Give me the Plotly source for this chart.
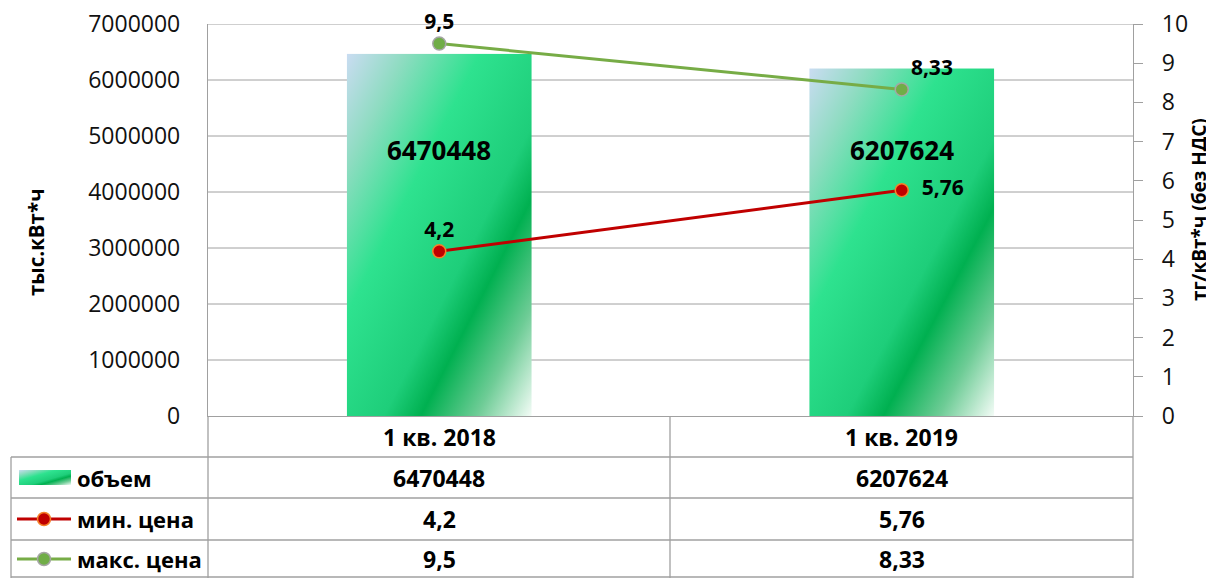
import base64
import plotly.graph_objects as go

# ---- data ----
categories = ["1 кв. 2018", "1 кв. 2019"]
volume = [6470448, 6207624]
min_price = [4.2, 5.76]
max_price = [9.5, 8.33]
series_names = ["объем", "мин. цена", "макс. цена"]
left_title = "тыс.кВт*ч"
right_title = "тг/кВт*ч (без НДС)"
left_ticks = [0, 1000000, 2000000, 3000000, 4000000, 5000000, 6000000, 7000000]
right_ticks = list(range(0, 11))

# ---- geometry (page pixels; the page body adds an 8px offset) ----
OFF = 8
W, H = 1214 - OFF, 578 - OFF
L, R, T, B = 208, 1133, 24, 416          # page coords of plot area
PW, PH = R - L, B - T
FONT = "Open Sans"
GRID = "#A0A0A0"
RED = "#C00000"
GREEN = "#77AC46"


def px(X):
    return (X - L) / PW


def py(Y):
    return (B - Y) / PH


def fmt(v):
    return str(v).replace(".", ",")


svg = (
    "<svg xmlns='http://www.w3.org/2000/svg' width='100' height='100' viewBox='0 0 100 100' "
    "preserveAspectRatio='none'><defs><linearGradient id='g' x1='0' y1='0' x2='1' y2='1'>"
    "<stop offset='0' stop-color='#CADCF2'/>"
    "<stop offset='0.16' stop-color='#8EDCC1'/>"
    "<stop offset='0.36' stop-color='#2EE28F'/>"
    "<stop offset='0.60' stop-color='#1ECE7A'/>"
    "<stop offset='0.70' stop-color='#00B050'/>"
    "<stop offset='0.85' stop-color='#6ECC96'/>"
    "<stop offset='1' stop-color='#F4FCF7'/>"
    "</linearGradient></defs><rect width='100' height='100' fill='url(#g)'/></svg>"
)
grad_src = "data:image/svg+xml;base64," + base64.b64encode(svg.encode()).decode()

xs = list(range(len(categories)))
BAR_W = 0.4

fig = go.Figure()

fig.add_trace(go.Bar(
    x=xs, y=volume, width=BAR_W, name=series_names[0],
    marker=dict(color="rgba(0,0,0,0)", line=dict(width=0)),
    showlegend=False, hoverinfo="y",
))

fig.add_trace(go.Scatter(
    x=xs, y=min_price, yaxis="y2", name=series_names[1],
    mode="lines+markers+text",
    line=dict(color=RED, width=3),
    marker=dict(size=13, color=RED, line=dict(color="#F5822A", width=1.5)),
    text=[fmt(v) for v in min_price],
    textposition=["top center", "middle right"],
    textfont=dict(family=FONT, size=21, color="#000"),
    texttemplate=["<b>%{text}</b>", "&nbsp;&nbsp;<b>%{text}</b>"],
    cliponaxis=False, showlegend=False,
))

fig.add_trace(go.Scatter(
    x=xs, y=max_price, yaxis="y2", name=series_names[2],
    mode="lines+markers+text",
    line=dict(color=GREEN, width=3),
    marker=dict(size=13, color="#70AD47", line=dict(color="#A5A5A5", width=1.5)),
    text=[fmt(v) for v in max_price],
    textposition=["top center", "top right"],
    textfont=dict(family=FONT, size=21, color="#000"),
    texttemplate="<b>%{text}</b>",
    cliponaxis=False, showlegend=False,
))

images = []
for x, v in zip(xs, volume):
    images.append(dict(
        source=grad_src, xref="x", yref="y", x=x - BAR_W / 2, y=v,
        sizex=BAR_W, sizey=v, xanchor="left", yanchor="top",
        sizing="stretch", layer="below",
    ))
images.append(dict(
    source=grad_src, xref="paper", yref="paper", x=px(19), y=py(470),
    sizex=px(71) - px(19), sizey=py(470) - py(485), xanchor="left", yanchor="top",
    sizing="stretch", layer="above",
))

shapes = []
for t in left_ticks[1:]:
    shapes.append(dict(type="line", xref="x", yref="y", x0=-0.5, x1=1.5, y0=t, y1=t,
                       line=dict(color=GRID, width=1), layer="below"))

tl = dict(color=GRID, width=1.3)
for Y in [457, 498, 540, 577]:
    shapes.append(dict(type="line", xref="paper", yref="paper", x0=px(11), x1=px(R),
                       y0=py(Y), y1=py(Y), line=tl))
shapes.append(dict(type="line", xref="paper", yref="paper", x0=px(11), x1=px(11),
                   y0=py(457), y1=py(578), line=tl))
for X in [L, 670, R]:
    shapes.append(dict(type="line", xref="paper", yref="paper", x0=px(X), x1=px(X),
                       y0=py(B), y1=py(578), line=tl))

for Y, lc, fc, oc in [(519, RED, RED, "#F5822A"), (559, GREEN, "#70AD47", "#A5A5A5")]:
    shapes.append(dict(type="line", xref="paper", yref="paper", x0=px(17), x1=px(71),
                       y0=py(Y), y1=py(Y), line=dict(color=lc, width=3)))
    shapes.append(dict(type="circle", xref="paper", yref="paper",
                       x0=px(44 - 6.5), x1=px(44 + 6.5), y0=py(Y + 6.5), y1=py(Y - 6.5),
                       fillcolor=fc, line=dict(color=oc, width=1.5)))

annotations = []
tf = dict(family=FONT, size=23, color="#000")
for x, v in zip(xs, volume):
    annotations.append(dict(x=x, y=4750000, xref="x", yref="y", text=f"<b>{v}</b>",
                            showarrow=False, xanchor="center", yanchor="middle",
                            font=dict(family=FONT, size=26, color="#000")))

col_centers = [(L + 670) / 2, (670 + R) / 2]
row_y = [436.5, 477.5, 519, 559]
rows = [categories, [str(v) for v in volume], [fmt(v) for v in min_price],
        [fmt(v) for v in max_price]]
for ry, vals in zip(row_y, rows):
    for cx, s in zip(col_centers, vals):
        annotations.append(dict(x=px(cx), y=py(ry), xref="paper", yref="paper",
                                text=f"<b>{s}</b>", showarrow=False, font=tf,
                                xanchor="center", yanchor="middle"))
for ry, name in zip(row_y[1:], series_names):
    annotations.append(dict(x=px(75), y=py(ry), xref="paper", yref="paper",
                            text=f"<b>{name}</b>", showarrow=False,
                            font=dict(family=FONT, size=22, color="#000"),
                            xanchor="left", yanchor="middle"))

annotations.append(dict(x=px(36), y=py(242), xref="paper", yref="paper",
                        text=f"<b>{left_title}</b>", textangle=-90, showarrow=False,
                        xanchor="center", yanchor="middle",
                        font=dict(family=FONT, size=20.5, color="#000")))
annotations.append(dict(x=px(1199), y=py(210), xref="paper", yref="paper",
                        text=f"<b>{right_title}</b>", textangle=-90, showarrow=False,
                        xanchor="center", yanchor="middle", borderpad=0,
                        font=dict(family=FONT, size=19, color="#000")))

tick_font = dict(family=FONT, size=23, color="#111")
fig.update_layout(
    width=W, height=H,
    margin=dict(l=L - OFF, r=W - (R - OFF), t=T - OFF, b=H - (B - OFF), pad=0,
                autoexpand=False),
    paper_bgcolor="white", plot_bgcolor="white",
    showlegend=False,
    xaxis=dict(range=[-0.5, 1.5], showgrid=False, zeroline=False, showticklabels=False,
               ticks="", showline=True, linecolor=GRID, linewidth=1.3, fixedrange=True,
               automargin=False),
    yaxis=dict(range=[0, 7000000], tickvals=left_ticks, ticktext=[str(t) for t in left_ticks],
               showgrid=False, zeroline=False, showline=True, linecolor=GRID, linewidth=1.3,
               ticks="", ticklabelstandoff=22, tickfont=tick_font,
               ticklabeloverflow="allow", automargin=False),
    yaxis2=dict(range=[0, 10], overlaying="y", side="right", tickvals=right_ticks,
                showgrid=False, zeroline=False, showline=True, linecolor=GRID, linewidth=1.3,
                ticks="outside", ticklen=9, tickcolor=GRID, tickwidth=1.3,
                ticklabelstandoff=14, tickfont=tick_font, ticklabeloverflow="allow",
                automargin=False),
    images=images, shapes=shapes, annotations=annotations,
)

fig.write_html("out.html")
